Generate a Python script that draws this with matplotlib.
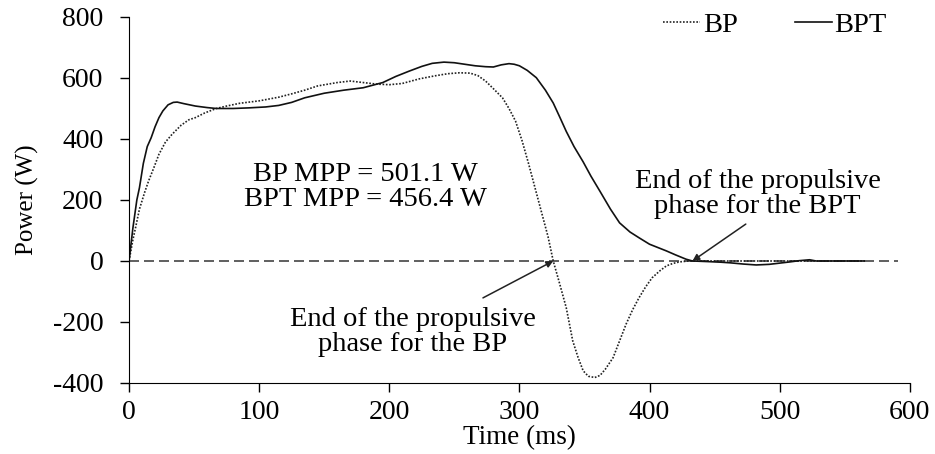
import matplotlib.pyplot as plt

plt.rcParams['font.family'] = ['Liberation Serif', 'DejaVu Serif']
plt.rcParams['axes.unicode_minus'] = False

# BP (dotted): time in ms, power in W
bp_t = [0, 3, 5, 8, 12, 15, 19, 23, 28, 33, 40, 46, 51, 58, 67, 75, 85, 100, 115,
        125, 135, 145, 160, 170, 180, 190, 200, 210, 223, 235, 245, 254, 262, 268,
        274, 280, 287, 292, 297, 302, 307, 312, 317, 322, 326, 330, 336, 341, 345,
        349, 353, 358, 362, 366, 372, 377, 382, 387, 392, 397, 402, 408, 413, 418,
        423, 430, 450, 500, 565]
bp_p = [0, 70, 109, 170, 225, 262, 305, 350, 390, 415, 445, 463, 470, 485, 500, 508,
        517, 525, 537, 548, 560, 574, 585, 590, 585, 580, 578, 582, 597, 607, 614,
        617, 616, 608, 590, 565, 535, 500, 459, 395, 320, 240, 160, 80, 0, -60,
        -153, -262, -315, -360, -378, -382, -375, -355, -317, -262, -207, -160,
        -120, -85, -55, -32, -16, -8, -3, 0, 0, 0, 0]

# BPT (solid)
bpt_t = [0, 3, 6, 8, 11, 14, 17, 20, 23, 26, 30, 34, 37, 42, 51, 60, 67, 80, 92,
         105, 115, 125, 135, 150, 165, 180, 195, 205, 215, 225, 233, 242, 250, 258,
         266, 274, 280, 286, 292, 296, 300, 306, 313, 320, 326, 331, 336, 342, 349,
         355, 362, 370, 377, 385, 392, 400, 413, 420, 428, 433, 445, 455, 462, 472,
         482, 492, 500, 508, 515, 523, 528, 545, 565]
bpt_p = [0, 109, 200, 240, 320, 375, 404, 440, 470, 492, 512, 520, 521, 516, 508,
         503, 500, 500, 502, 505, 510, 520, 535, 550, 560, 568, 585, 605, 622, 638,
         648, 652, 650, 645, 640, 637, 636, 643, 647, 645, 640, 625, 601, 560, 518,
         472, 425, 375, 325, 278, 228, 170, 125, 95, 76, 55, 33, 20, 6, 0, -2, -4,
         -6, -10, -13, -11, -7, -3, 1, 4, 0, 0, 0]

zero_line_end = 591

y_ticks = [-400, -200, 0, 200, 400, 600, 800]
x_ticks = [0, 100, 200, 300, 400, 500, 600]

fig = plt.figure(figsize=(9.35, 4.54), dpi=100)
ax = fig.add_axes([0.138, 0.1564, 0.835, 0.8062])

ax.hlines(0, 0, zero_line_end, colors='#444444', linestyles=(0, (6, 3)), linewidth=1.2)
ax.plot(bp_t, bp_p, color='#222222', linestyle=(0, (1, 1)), linewidth=1.2, label='BP')
ax.plot(bpt_t, bpt_p, color='#111111', linestyle='-', linewidth=1.2, label='BPT')

ax.set_xlim(0, 600)
ax.set_ylim(-400, 800)
ax.set_xticks(x_ticks)
ax.set_yticks(y_ticks)
ax.spines['top'].set_visible(False)
ax.spines['right'].set_visible(False)
ax.tick_params(direction='out', length=6.5, width=1, labelsize=20)
ax.tick_params(axis='y', pad=12)
ax.tick_params(axis='x', pad=6)
ax.set_xlabel('Time (ms)', fontsize=19.5, labelpad=0)
ax.set_ylabel('Power (W)', fontsize=18, labelpad=10)

ax.text(182, 241, 'BP MPP = 501.1 W\nBPT MPP = 456.4 W', fontsize=20.5,
        ha='center', va='center', multialignment='center', linespacing=1.0)

ax.text(218, -233, 'End of the propulsive\nphase for the BP', fontsize=20.5,
        ha='center', va='center', multialignment='center', linespacing=1.0)
ax.annotate('', xy=(326, 0), xytext=(272, -121),
            arrowprops=dict(arrowstyle='-|>', color='#222222', lw=1.1,
                            mutation_scale=10, shrinkA=0, shrinkB=0))

ax.text(483, 220, 'End of the propulsive\nphase for the BPT', fontsize=20.5,
        ha='center', va='center', multialignment='center', linespacing=1.0)
ax.annotate('', xy=(433, 0), xytext=(474, 121),
            arrowprops=dict(arrowstyle='-|>', color='#222222', lw=1.1,
                            mutation_scale=10, shrinkA=0, shrinkB=0))

ax.legend(ncol=2, frameon=False, loc='upper right', bbox_to_anchor=(0.985, 1.045),
          fontsize=20.5, handlelength=1.3, handletextpad=0.1, columnspacing=2.0,
          borderaxespad=0)

fig.savefig('out.png', dpi=100)
